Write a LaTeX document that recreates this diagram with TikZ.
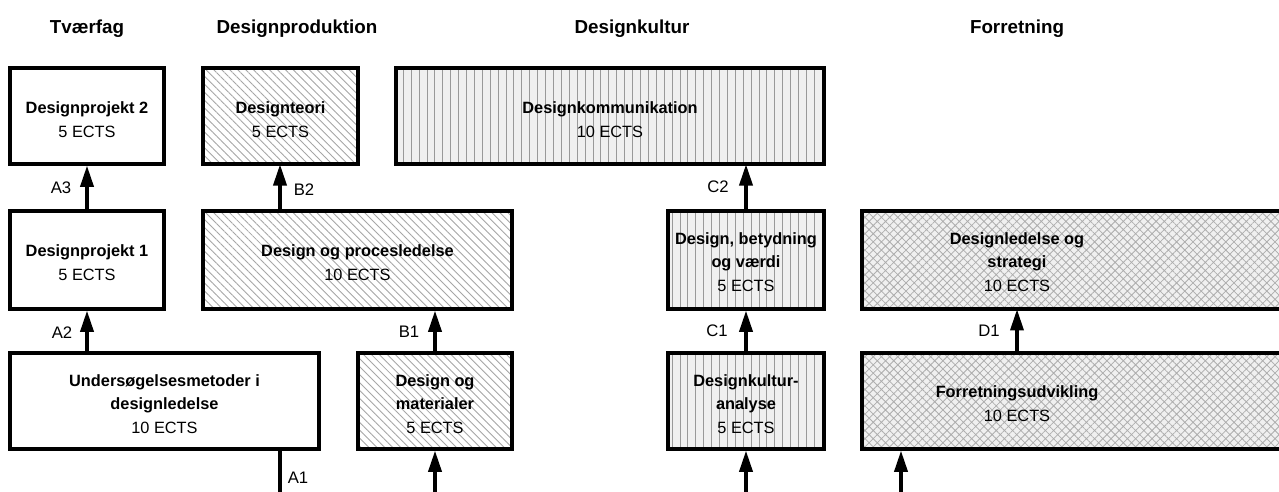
\documentclass[tikz,border=0pt]{standalone}
\usepackage{fontspec}
\setmainfont{Liberation Sans}
\usetikzlibrary{arrows.meta,patterns.meta,fit}
\begin{document}
\begin{tikzpicture}[x=0.02cm,y=-0.02cm,
  box/.style={draw=black, line width=2pt, inner sep=0pt},
  plainbox/.style={box, fill=white},
  prodbox/.style={box, preaction={fill=white}, pattern={Lines[angle=-45,distance=3.2pt,line width=0.5pt]}, pattern color=black!35},
  kultbox/.style={box, preaction={fill=black!6}, pattern={Lines[angle=90,distance=4.5pt,line width=0.5pt]}, pattern color=black!40},
  forrbox/.style={box, preaction={fill=black!6}, pattern={Hatch[angle=45,distance=3.3pt,line width=0.45pt]}, pattern color=black!32},
  boxtext/.style={font=\fontsize{9.3}{13.5}\selectfont, align=center, inner sep=0pt},
  title/.style={font=\fontsize{10.7}{13}\selectfont\bfseries},
  lbl/.style={font=\fontsize{9.5}{12}\selectfont},
  arr/.style={line width=1.8pt, -{Triangle[length=12pt,width=7.5pt]}},
  link/.style={line width=1.8pt}
]
\useasboundingbox (0,0) rectangle (1279,492);

% titles
\node[title] (t1) at (87,29) {Tværfag};
\node[title] (t2) at (297,29) {Designproduktion};
\node[title] (t3) at (632,29) {Designkultur};
\node[title] (t4) at (1017,29) {Forretning};

% boxes
\node[plainbox, fit={(10,68) (164,164)}] (dp2) {};
\node[prodbox, fit={(203,68) (358,164)}] (dt) {};
\node[kultbox, fit={(396,68) (824,164)}] (dk) {};
\node[plainbox, fit={(10,211) (164,309)}] (dp1) {};
\node[prodbox, fit={(203,211) (512,309)}] (dpl) {};
\node[kultbox, fit={(668,211) (824,309)}] (dbv) {};
\node[forrbox, fit={(862,211) (1300,309)}] (dls) {};
\node[plainbox, fit={(10,353) (319,449)}] (um) {};
\node[prodbox, fit={(358,353) (512,449)}] (dm) {};
\node[kultbox, fit={(668,353) (824,449)}] (dka) {};
\node[forrbox, fit={(862,353) (1300,449)}] (fu) {};

% box texts
\node[boxtext] (dp2t) at ([yshift=-0.08cm]dp2.center) {\textbf{Designprojekt 2}\\5 ECTS};
\node[boxtext] (dtt) at ([yshift=-0.08cm]dt.center) {\textbf{Designteori}\\5 ECTS};
\node[boxtext] (dkt) at ([yshift=-0.08cm]dk.center) {\textbf{Designkommunikation}\\10 ECTS};
\node[boxtext] (dp1t) at ([yshift=-0.06cm]dp1.center) {\textbf{Designprojekt 1}\\5 ECTS};
\node[boxtext] (dplt) at ([yshift=-0.06cm]dpl.center) {\textbf{Design og procesledelse}\\10 ECTS};
\node[boxtext] (dbvt) at ([yshift=-0.04cm]dbv.center) {\textbf{Design, betydning}\\\textbf{og værdi}\\5 ECTS};
\node[boxtext] (dlst) at (1017,262) {\textbf{Designledelse og}\\\textbf{strategi}\\10 ECTS};
\node[boxtext] (umt) at ([yshift=-0.06cm]um.center) {\textbf{Undersøgelsesmetoder i}\\\textbf{designledelse}\\10 ECTS};
\node[boxtext] (dmt) at ([yshift=-0.06cm]dm.center) {\textbf{Design og}\\\textbf{materialer}\\5 ECTS};
\node[boxtext] (dkat) at ([yshift=-0.06cm]dka.center) {\textbf{Designkultur-}\\\textbf{analyse}\\5 ECTS};
\node[boxtext] (fut) at (1017,404) {\textbf{Forretningsudvikling}\\10 ECTS};

% x positions of connectors
\coordinate (xa) at (87,0);
\coordinate (xb2) at (280,0);
\coordinate (xb1) at (435,0);
\coordinate (xc) at (746,0);
\coordinate (xd) at (1017,0);
\coordinate (xfu) at (901,0);
\coordinate (bot) at (0,510);

% arrows
\draw[arr] (dp1.north -| xa) -- (dp2.south -| xa);
\draw[arr] (um.north -| xa) -- (dp1.south -| xa);
\draw[arr] (dpl.north -| xb2) -- (dt.south -| xb2);
\draw[arr] (dm.north -| xb1) -- (dpl.south -| xb1);
\draw[arr] (dbv.north -| xc) -- (dk.south -| xc);
\draw[arr] (dka.north -| xc) -- (dbv.south -| xc);
\draw[arr] (fu.north -| xd) -- (dls.south -| xd);
\draw[link] (um.south -| xb2) -- (bot -| xb2);
\draw[arr] (bot -| xb1) -- (dm.south -| xb1);
\draw[arr] (bot -| xc) -- (dka.south -| xc);
\draw[arr] (bot -| xfu) -- (fu.south -| xfu);

% labels
\node[lbl] (la3) at (61,188) {A3};
\node[lbl] (la2) at (62,333) {A2};
\node[lbl] (lb2) at (304,190) {B2};
\node[lbl] (lb1) at (409,332) {B1};
\node[lbl] (lc2) at (718,187) {C2};
\node[lbl] (lc1) at (717,331) {C1};
\node[lbl] (ld1) at (989,331) {D1};
\node[lbl] (la1) at (298,478) {A1};
\end{tikzpicture}
\end{document}
